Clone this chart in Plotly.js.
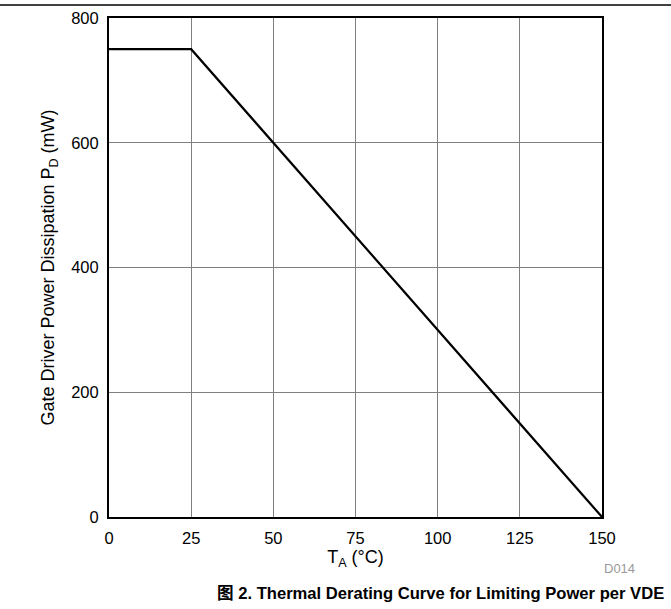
<!DOCTYPE html>
<html><head><meta charset="utf-8">
<script src="https://cdn.plot.ly/plotly-3.0.1.min.js"></script>
<style>html,body{margin:0;padding:0;background:#fff;}#chart{width:671px;height:609px;}</style>
</head><body><div id="chart"></div>
<script>
const tempC = [0, 25, 150];
const powerMW = [750, 750, 0];
const xTicks = [0, 25, 50, 75, 100, 125, 150];
const yTicks = [0, 200, 400, 600, 800];
const font = 'Liberation Sans, Arial, sans-serif';
const trace = {x: tempC, y: powerMW, mode: 'lines', line: {color: '#000', width: 2.2}, hoverinfo: 'skip'};
const layout = {
  width: 671, height: 609,
  margin: {l: 109, r: 69, t: 18, b: 92},
  paper_bgcolor: '#fff', plot_bgcolor: '#fff',
  showlegend: false,
  font: {family: font, size: 16.5, color: '#000'},
  xaxis: {range: [0, 150], tickvals: xTicks, ticktext: xTicks.map(String), showgrid: true, gridcolor: '#808080', gridwidth: 1,
    zeroline: false, showline: true, linecolor: '#000', linewidth: 2, mirror: true, ticks: '', ticklen: 0, ticklabelstandoff: 5,
    tickfont: {family: font, size: 16.5}, title: {text: 'T<sub>A</sub> (°C)', font: {family: font, size: 18}, standoff: 2}},
  yaxis: {range: [0, 800], tickvals: yTicks, ticktext: yTicks.map(String), showgrid: true, gridcolor: '#808080', gridwidth: 1,
    zeroline: false, showline: true, linecolor: '#000', linewidth: 2, mirror: true, ticks: '', ticklen: 0, ticklabelstandoff: 5,
    tickfont: {family: font, size: 16.5}, title: {text: 'Gate Driver Power Dissipation P<sub>D</sub> (mW)', font: {family: font, size: 18}, standoff: 12}},
  shapes: [{type: 'line', xref: 'paper', yref: 'paper', x0: -0.25, x1: 1.25, y0: 1.026, y1: 1.026, line: {color: '#000', width: 1.5}}],
  annotations: [
    {xref: 'paper', yref: 'paper', x: 1.036, y: -0.104, xanchor: 'center', yanchor: 'middle', text: 'D014', showarrow: false, font: {family: font, size: 13, color: '#999'}},
    {xref: 'paper', yref: 'paper', x: 0.673, y: -0.150, xanchor: 'center', yanchor: 'middle', text: '<b><span style="font-family:Noto Sans CJK SC">图</span> 2. Thermal Derating Curve for Limiting Power per VDE</b>', showarrow: false, font: {family: font, size: 16.6, color: '#000'}}
  ]
};
Plotly.newPlot('chart', [trace], layout, {displayModeBar: false, staticPlot: true});
</script></body></html>
